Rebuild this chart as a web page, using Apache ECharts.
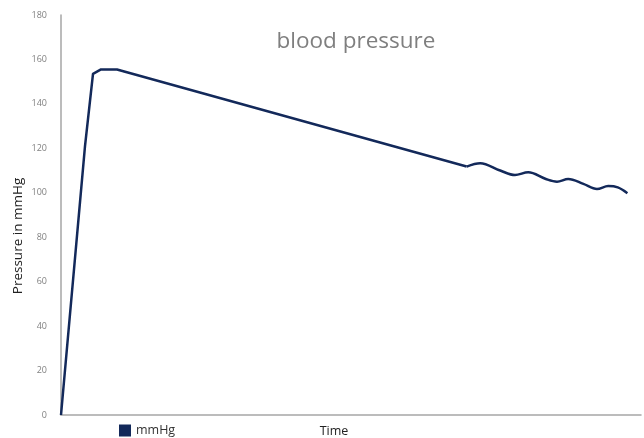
<!DOCTYPE html>
<html>
<head>
<meta charset="utf-8">
<script src="https://cdn.jsdelivr.net/npm/echarts@6/dist/echarts.min.js"></script>
<style>
  html, body { margin: 0; padding: 0; background: #fff; overflow: hidden; }
  #chart { width: 644px; height: 438px; }
</style>
</head>
<body>
<div id="chart"></div>
<script>
// Blood pressure readings over time (time in sample units, pressure in mmHg).
// Inflation and steady deflation phase:
const rampTime = [0, 3, 4, 5, 7, 50.7];
const rampPressure = [0, 121, 153.5, 155.5, 155.5, 111.8];
// Oscillation phase at the end of the measurement:
const pulseTime = [50.7, 52.4, 54.9, 56.75, 58.4, 60.6, 62, 63.4, 65.3, 67, 68.4, 69.6, 70.8];
const pulsePressure = [111.8, 113.3, 110, 108, 109.2, 106.2, 105, 106.2, 104, 101.7, 103, 102.4, 99.8];
const yTicks = [0, 20, 40, 60, 80, 100, 120, 140, 160, 180];

const seriesName = 'mmHg';
const lineColor = '#13295a';
const textFont = 'Open Sans';

const toPoints = (xs, ys) => xs.map((t, i) => [t, ys[i]]);

const chart = echarts.init(document.getElementById('chart'));
chart.setOption({
  animation: false,
  backgroundColor: '#ffffff',
  title: {
    text: 'blood pressure',
    left: 351,
    top: 25,
    textAlign: 'center',
    textStyle: { fontFamily: textFont, fontSize: 22.5, fontWeight: 'normal', color: '#7f7f7f' }
  },
  legend: {
    data: [seriesName],
    left: 119,
    top: 424,
    padding: 0,
    itemWidth: 12,
    itemHeight: 12,
    itemGap: 6,
    icon: 'rect',
    textStyle: { fontFamily: textFont, fontSize: 12.5, color: '#333' }
  },
  grid: { left: 61, right: 3, top: 15, bottom: 23, containLabel: false, outerBoundsMode: 'none' },
  xAxis: {
    type: 'value',
    min: 0,
    max: 72.5,
    axisLine: { show: true, onZero: false, lineStyle: { color: '#a6a6a6', width: 1.5 } },
    axisTick: { show: false },
    axisLabel: { show: false },
    splitLine: { show: false }
  },
  yAxis: {
    type: 'value',
    min: yTicks[0],
    max: yTicks[yTicks.length - 1],
    interval: 20,
    axisLine: { show: true, lineStyle: { color: '#a6a6a6', width: 1.5 } },
    axisTick: { show: false },
    axisLabel: { margin: 14, fontFamily: textFont, fontSize: 9, color: '#808080' },
    splitLine: { show: false }
  },
  graphic: [{
    type: 'text',
    x: 18,
    y: 236,
    rotation: Math.PI / 2,
    style: {
      text: 'Pressure in mmHg',
      fontFamily: textFont,
      fontSize: 13.5,
      fill: '#222',
      textAlign: 'center',
      textVerticalAlign: 'middle'
    }
  }, {
    type: 'text',
    x: 334,
    y: 431,
    style: {
      text: 'Time',
      fontFamily: textFont,
      fontSize: 12.5,
      fill: '#222',
      textAlign: 'center',
      textVerticalAlign: 'middle'
    }
  }],
  series: [{
    name: seriesName,
    type: 'line',
    data: toPoints(rampTime, rampPressure),
    smooth: false,
    symbol: 'none',
    itemStyle: { color: lineColor },
    lineStyle: { color: lineColor, width: 2.5, join: 'round' }
  }, {
    name: seriesName,
    type: 'line',
    data: toPoints(pulseTime, pulsePressure),
    smooth: 0.35,
    symbol: 'none',
    itemStyle: { color: lineColor },
    lineStyle: { color: lineColor, width: 2.5 }
  }]
});
</script>
</body>
</html>
